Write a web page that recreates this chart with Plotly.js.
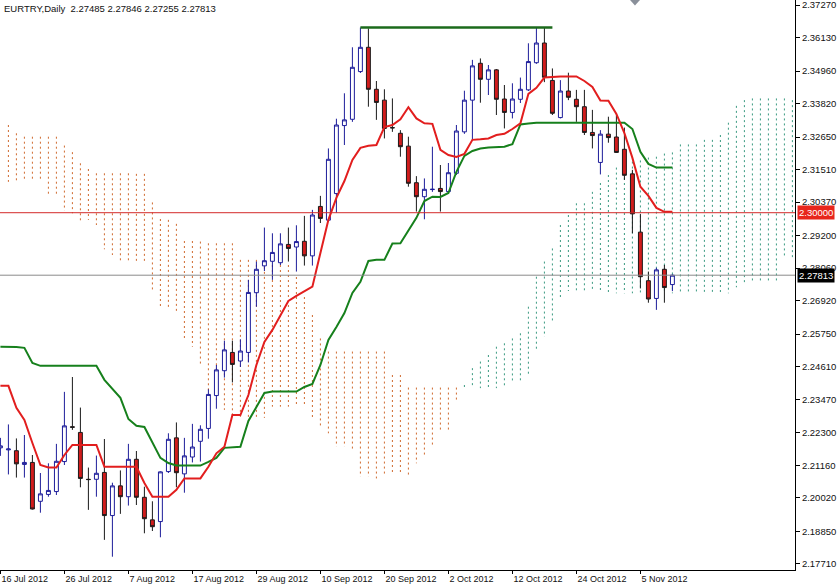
<!DOCTYPE html>
<html><head><meta charset="utf-8">
<script src="https://cdn.plot.ly/plotly-3.0.1.min.js"></script>
<style>html,body{margin:0;padding:0;background:#fff;}#chart{width:837px;height:586px;}</style>
</head><body><div id="chart"></div>
<script>
// ---- data ----
const chartTitle = 'EURTRY,Daily  2.27485 2.27846 2.27255 2.27813';
const tickIdx = [0, 8, 16, 24, 32, 40, 48, 56, 64, 72, 80];
const tickLabels = ['16 Jul 2012', '26 Jul 2012', '7 Aug 2012', '17 Aug 2012', '29 Aug 2012', '10 Sep 2012',
  '20 Sep 2012', '2 Oct 2012', '12 Oct 2012', '24 Oct 2012', '5 Nov 2012'];
const priceTicks = [2.37270, 2.36130, 2.34960, 2.33820, 2.32650, 2.31510, 2.30370, 2.29200, 2.28060,
  2.26920, 2.25750, 2.24610, 2.23470, 2.22300, 2.21160, 2.20020, 2.18850, 2.17710];

const openP = [2.2177, 2.2170, 2.2167, 2.2119, 2.2126, 2.1990, 2.2014, 2.2024, 2.2129, 2.2251,
  2.2231, 2.2067, 2.2067, 2.2091, 2.1940, 2.2044, 2.2006, 2.2137, 2.2004, 2.1925,
  2.1919, 2.2094, 2.2212, 2.2086, 2.2145, 2.2200, 2.2245, 2.2360, 2.2447, 2.2511,
  2.2481, 2.2511, 2.2720, 2.2814, 2.2830, 2.2825, 2.2889, 2.2880, 2.2900, 2.2849,
  2.3022, 2.2974, 2.3067, 2.3305, 2.3327, 2.3494, 2.3579, 2.3432, 2.3394, 2.3298,
  2.3278, 2.3233, 2.3105, 2.3056, 2.3081, 2.3085, 2.3074, 2.3138, 2.3283, 2.3394,
  2.3523, 2.3467, 2.3500, 2.3398, 2.3351, 2.3397, 2.3430, 2.3525, 2.3594, 2.3463,
  2.3333, 2.3426, 2.3397, 2.3371, 2.3281, 2.3176, 2.3275, 2.3265, 2.3222, 2.3136,
  2.2932, 2.2762, 2.2700, 2.2802, 2.27485];
const highP = [2.2212, 2.2259, 2.2210, 2.2222, 2.2152, 2.2089, 2.2123, 2.2191, 2.2373, 2.2425,
  2.2318, 2.2108, 2.2150, 2.2208, 2.2055, 2.2098, 2.2191, 2.2166, 2.2041, 2.1990,
  2.2095, 2.2228, 2.2266, 2.2212, 2.2261, 2.2256, 2.2382, 2.2467, 2.2552, 2.2552,
  2.2557, 2.2765, 2.2829, 2.2948, 2.2928, 2.2928, 2.2948, 2.2956, 2.2989, 2.3010,
  2.3059, 2.3225, 2.3329, 2.3418, 2.3579, 2.3648, 2.3645, 2.3461, 2.3432, 2.3400,
  2.3289, 2.3266, 2.3128, 2.3120, 2.3231, 2.3167, 2.3174, 2.3307, 2.3427, 2.3535,
  2.3540, 2.3517, 2.3503, 2.3447, 2.3453, 2.3473, 2.3593, 2.3648, 2.3648, 2.3505,
  2.3464, 2.3490, 2.3430, 2.3430, 2.3360, 2.3289, 2.3336, 2.3346, 2.3298, 2.3150,
  2.2996, 2.2794, 2.2807, 2.2817, 2.27846];
const lowP = [2.2149, 2.2084, 2.2073, 2.2073, 2.1961, 2.1950, 2.2006, 2.2012, 2.2117, 2.2240,
  2.2039, 2.1960, 2.2006, 2.1855, 2.1796, 2.1946, 2.1975, 2.1977, 2.1878, 2.1886,
  2.1864, 2.2089, 2.2039, 2.2020, 2.2126, 2.2129, 2.2209, 2.2314, 2.2423, 2.2406,
  2.2460, 2.2476, 2.2671, 2.2796, 2.2765, 2.2817, 2.2829, 2.2794, 2.2815, 2.2815,
  2.2964, 2.2968, 2.3000, 2.3237, 2.3318, 2.3489, 2.3371, 2.3325, 2.3260, 2.3283,
  2.3196, 2.3091, 2.3004, 2.2977, 2.3073, 2.3004, 2.3069, 2.3132, 2.3276, 2.3255,
  2.3385, 2.3412, 2.3342, 2.3295, 2.3330, 2.3384, 2.3426, 2.3521, 2.3457, 2.3342,
  2.3330, 2.3394, 2.3318, 2.3272, 2.3225, 2.3134, 2.3245, 2.3209, 2.3115, 2.2928,
  2.2735, 2.2685, 2.2660, 2.2685, 2.27255];
const closeP = [2.2184, 2.2173, 2.2121, 2.2126, 2.1963, 2.2016, 2.2028, 2.2130, 2.2254, 2.2249,
  2.2070, 2.2066, 2.2088, 2.1940, 2.2044, 2.2006, 2.2137, 2.2004, 2.1929, 2.1901,
  2.2093, 2.2207, 2.2090, 2.2149, 2.2180, 2.2242, 2.2364, 2.2450, 2.2520, 2.2469,
  2.2516, 2.2721, 2.2802, 2.2832, 2.2861, 2.2891, 2.2875, 2.2899, 2.2849, 2.2992,
  2.2980, 2.3187, 2.3307, 2.3325, 2.3509, 2.3579, 2.3432, 2.3386, 2.3295, 2.3297,
  2.3231, 2.3103, 2.3056, 2.3082, 2.3082, 2.3074, 2.3140, 2.3286, 2.3394, 2.3514,
  2.3467, 2.3500, 2.3397, 2.3351, 2.3398, 2.3432, 2.3529, 2.3594, 2.3474, 2.3348,
  2.3426, 2.3404, 2.3371, 2.3281, 2.3270, 2.3275, 2.3263, 2.3211, 2.3131, 2.2996,
  2.2776, 2.2698, 2.2800, 2.2738, 2.27813];

const tenkan = [2.2394, 2.2394, 2.2317, 2.2275, 2.2194, 2.2117, 2.2108, 2.2108, 2.2152, 2.2187,
  2.2187, 2.2187, 2.2187, 2.2111, 2.2111, 2.2111, 2.2111, 2.2111, 2.2054, 2.2006,
  2.2006, 2.2006, 2.2030, 2.2070, 2.2070, 2.2070, 2.2111, 2.2158, 2.2181, 2.2292,
  2.2292, 2.2362, 2.2467, 2.2548, 2.2590, 2.2642, 2.2691, 2.2709, 2.2726, 2.2741,
  2.2859, 2.2975, 2.3052, 2.3111, 2.3185, 2.3227, 2.3234, 2.3237, 2.3300, 2.3307,
  2.3327, 2.3369, 2.3330, 2.3313, 2.3311, 2.3220, 2.3202, 2.3195, 2.3206, 2.3255,
  2.3257, 2.3260, 2.3272, 2.3276, 2.3293, 2.3313, 2.3416, 2.3437, 2.3473, 2.3476,
  2.3477, 2.3477, 2.3477, 2.3461, 2.3440, 2.3393, 2.3392, 2.3346, 2.3279, 2.3192,
  2.3091, 2.3059, 2.3017, 2.3003, 2.3003];
const kijun = [2.2531, 2.2531, 2.2530, 2.2527, 2.2474, 2.2464, 2.2464, 2.2464, 2.2464, 2.2464,
  2.2464, 2.2464, 2.2464, 2.2415, 2.2383, 2.2352, 2.2278, 2.2254, 2.2250, 2.2194,
  2.2142, 2.2124, 2.2115, 2.2115, 2.2115, 2.2115, 2.2128, 2.2142, 2.2177, 2.2180,
  2.2181, 2.2271, 2.2320, 2.2369, 2.2374, 2.2374, 2.2374, 2.2374, 2.2390, 2.2401,
  2.2467, 2.2555, 2.2600, 2.2649, 2.2719, 2.2758, 2.2831, 2.2835, 2.2835, 2.2892,
  2.2893, 2.2936, 2.2982, 2.3041, 2.3056, 2.3055, 2.3069, 2.3143, 2.3199, 2.3216,
  2.3225, 2.3228, 2.3230, 2.3231, 2.3240, 2.3309, 2.3312, 2.3315, 2.3315, 2.3315,
  2.3315, 2.3315, 2.3315, 2.3315, 2.3315, 2.3315, 2.3315, 2.3315, 2.3315, 2.3293,
  2.3213, 2.3171, 2.3158, 2.3158, 2.3158];

// Senkou spans (already shifted 26 bars forward), index = bar position; bar 0 not drawn
const spanA = [null, 2.3108, 2.3108, 2.3109, 2.3109, 2.3109, 2.3066, 2.3066, 2.3007, 2.2998,
  2.2971, 2.2975, 2.2957, 2.2872, 2.2852, 2.2829, 2.2829, 2.2826, 2.2826, 2.2726,
  2.2671, 2.2668, 2.2656, 2.2555, 2.2531, 2.2467, 2.2368, 2.2345, 2.2310, 2.2292,
  2.2282, 2.2275, 2.2275, 2.2282, 2.2321, 2.2321, 2.2321, 2.2321, 2.2321, 2.2275,
  2.2251, 2.2228, 2.2181, 2.2181, 2.2164, 2.2076, 2.2076, 2.2070, 2.2082, 2.2082,
  2.2082, 2.2076, 2.2123, 2.2146, 2.2181, 2.2240, 2.2240, 2.2339, 2.2397, 2.2456,
  2.2479, 2.2502, 2.2531, 2.2543, 2.2560, 2.2578, 2.2671, 2.2776, 2.2829, 2.2875,
  2.2957, 2.2992, 2.3033, 2.3033, 2.3073, 2.3104, 2.3132, 2.3158, 2.3174, 2.3179,
  2.3183, 2.3193, 2.3196, 2.3207, 2.3211, 2.3239, 2.3239, 2.3239, 2.3255, 2.3255,
  2.3272, 2.3315, 2.3374, 2.3394, 2.3400, 2.3400, 2.3400, 2.3400, 2.3400, 2.3394];
const spanB = [null, 2.3307, 2.3278, 2.3266, 2.3266, 2.3266, 2.3266, 2.3266, 2.3235, 2.3212,
  2.3173, 2.3153, 2.3138, 2.3138, 2.3138, 2.3138, 2.3138, 2.3136, 2.3136, 2.3036,
  2.2978, 2.2975, 2.2961, 2.2901, 2.2901, 2.2899, 2.2893, 2.2893, 2.2893, 2.2893,
  2.2835, 2.2835, 2.2835, 2.2828, 2.2817, 2.2817, 2.2817, 2.2775, 2.2705, 2.2642,
  2.2560, 2.2514, 2.2514, 2.2514, 2.2514, 2.2514, 2.2514, 2.2514, 2.2514, 2.2432,
  2.2432, 2.2388, 2.2388, 2.2388, 2.2388, 2.2388, 2.2388, 2.2388, 2.2386, 2.2386,
  2.2386, 2.2386, 2.2386, 2.2391, 2.2407, 2.2407, 2.2432, 2.2514, 2.2566, 2.2613,
  2.2695, 2.2726, 2.2724, 2.2724, 2.2724, 2.2724, 2.2718, 2.2718, 2.2718, 2.2718,
  2.2718, 2.2718, 2.2718, 2.2718, 2.2718, 2.2718, 2.2718, 2.2718, 2.2718, 2.2718,
  2.2718, 2.2718, 2.2739, 2.2753, 2.2753, 2.2753, 2.2758, 2.2758, 2.2843, 2.2840];

const levelRed = 2.30000;
const lastPrice = 2.27813;
const trendX = [45, 69];
const trendY = [2.3648, 2.3648];

// ---- build ----
const barIdx = openP.map((_, i) => i);
const bear = {x: [], y: []}, bull = {x: [], y: []};
spanA.forEach((a, j) => {
  const b = spanB[j];
  if (a === null || b === null) return;
  const t = (a >= b) ? bull : bear;
  t.x.push(j, j, null);
  t.y.push(Math.max(a, b), Math.min(a, b), null);
});

const traces = [
  {type: 'scatter', mode: 'lines', x: bear.x, y: bear.y, xaxis: 'x', yaxis: 'y',
   line: {color: '#cf6a2e', width: 1, dash: '2px,3px'}, hoverinfo: 'skip', connectgaps: false},
  {type: 'scatter', mode: 'lines', x: bull.x, y: bull.y, xaxis: 'x', yaxis: 'y',
   line: {color: '#3a9a80', width: 1, dash: '2px,3px'}, hoverinfo: 'skip', connectgaps: false},
  {type: 'candlestick', x: barIdx, open: openP, high: highP, low: lowP, close: closeP,
   xaxis: 'x', yaxis: 'y2', whiskerwidth: 0, hoverinfo: 'skip',
   increasing: {line: {color: '#1c1c9a', width: 1}, fillcolor: '#ffffff'},
   decreasing: {line: {color: '#1a1a1a', width: 1}, fillcolor: '#d11c1c'}},
  {type: 'scatter', mode: 'lines', x: barIdx, y: kijun, xaxis: 'x', yaxis: 'y2',
   line: {color: '#16801c', width: 2}, hoverinfo: 'skip'},
  {type: 'scatter', mode: 'lines', x: barIdx, y: tenkan, xaxis: 'x', yaxis: 'y2',
   line: {color: '#e21e1e', width: 2}, hoverinfo: 'skip'},
  {type: 'scatter', mode: 'lines', x: trendX, y: trendY, xaxis: 'x', yaxis: 'y2',
   line: {color: '#1b6a1b', width: 2.5}, hoverinfo: 'skip'}
];

const yRange = [2.17495, 2.37445];
const layout = {
  width: 837, height: 586,
  margin: {l: 0, r: 42, t: 0, b: 16},
  paper_bgcolor: '#ffffff', plot_bgcolor: '#ffffff',
  showlegend: false, hovermode: false, boxgap: 0.3,
  font: {family: 'Liberation Sans, Arial, sans-serif', size: 9.5, color: '#111'},
  xaxis: {range: [-0.05, 99.325], tickmode: 'array', tickvals: tickIdx, ticktext: tickLabels,
    ticks: 'outside', ticklen: 3, tickcolor: '#000', ticklabelposition: 'outside right',
    ticklabeloverflow: 'allow',
    showgrid: false, zeroline: false, showline: true, linecolor: '#000', linewidth: 1,
    tickfont: {size: 9, color: '#111'}, rangeslider: {visible: false}, fixedrange: true},
  yaxis: {side: 'right', range: yRange, tickmode: 'array', tickvals: priceTicks,
    ticktext: priceTicks.map(v => v.toFixed(5)), ticks: 'outside', ticklen: 4, tickcolor: '#000',
    ticklabeloverflow: 'allow',
    showline: true, linecolor: '#000', linewidth: 1, showgrid: false, zeroline: false,
    tickfont: {size: 9.5, color: '#111'}, fixedrange: true},
  yaxis2: {overlaying: 'y', side: 'right', range: yRange, visible: false, showgrid: false,
    zeroline: false, fixedrange: true},
  shapes: [
    {type: 'line', xref: 'paper', x0: 0, x1: 1, yref: 'y', y0: levelRed, y1: levelRed,
     line: {color: '#d42a2a', width: 1}, layer: 'above'},
    {type: 'line', xref: 'paper', x0: 0, x1: 1, yref: 'y', y0: lastPrice, y1: lastPrice,
     line: {color: '#8a8a8a', width: 1}, layer: 'above'},
    {type: 'path', xref: 'paper', yref: 'paper', path: 'M 0.7925 1 L 0.805 1 L 0.7987 0.9905 Z',
     fillcolor: '#8a909a', line: {width: 0}, layer: 'above'}
  ],
  annotations: [
    {xref: 'paper', yref: 'paper', x: 0, y: 1, xanchor: 'left', yanchor: 'top', xshift: 2, yshift: -1,
     text: chartTitle, showarrow: false, font: {size: 9.5, color: '#111'}},
    {xref: 'paper', yref: 'y', x: 1, y: levelRed, xanchor: 'left', yanchor: 'middle', xshift: 2,
     text: levelRed.toFixed(5), showarrow: false, bgcolor: '#e8261c', borderpad: 1,
     font: {size: 9.5, color: '#ffffff'}},
    {xref: 'paper', yref: 'y', x: 1, y: lastPrice, xanchor: 'left', yanchor: 'middle', xshift: 2,
     text: lastPrice.toFixed(5), showarrow: false, bgcolor: '#000000', borderpad: 1,
     font: {size: 9.5, color: '#ffffff'}}
  ]
};

Plotly.newPlot('chart', traces, layout, {displayModeBar: false, staticPlot: true});
</script>
</body></html>
